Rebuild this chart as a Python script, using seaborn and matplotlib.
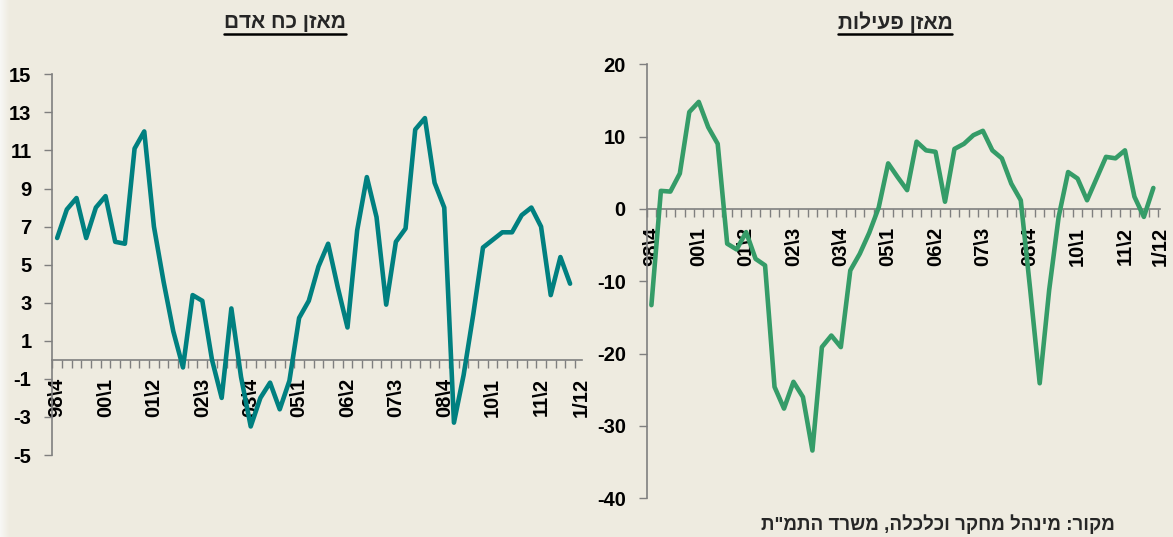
import numpy as np
import pandas as pd
import seaborn as sns
import matplotlib.pyplot as plt
from matplotlib.lines import Line2D

# quarterly series, 98\4 ... 12\1 (54 quarters)
manpower = [6.4, 7.9, 8.5, 6.4, 8.0, 8.6, 6.2, 6.1, 11.1, 12.0,
             7.0, 4.1, 1.5, -0.4, 3.4, 3.1, 0.0, -2.0, 2.7, -0.9,
             -3.5, -2.0, -1.2, -2.6, -1.1, 2.2, 3.1, 4.9, 6.1, 3.8,
             1.7, 6.8, 9.6, 7.5, 2.9, 6.2, 6.9, 12.1, 12.7, 9.3,
             8.0, -3.3, -0.8, 2.4, 5.9, 6.3, 6.7, 6.7, 7.6, 8.0,
             7.0, 3.4, 5.4, 4.0]

activity = [-13.3, 2.5, 2.4, 4.9, 13.4, 14.8, 11.3, 9.0, -4.8, -5.6,
            -3.2, -6.9, -7.8, -24.6, -27.6, -23.9, -26.0, -33.4, -19.1, -17.5,
            -19.1, -8.5, -6.2, -3.3, 0.2, 6.3, 4.4, 2.6, 9.3, 8.1,
            7.9, 1.0, 8.3, 9.0, 10.2, 10.8, 8.1, 7.0, 3.5, 1.2,
            -11.2, -24.1, -11.2, -1.1, 5.1, 4.2, 1.2, 4.2, 7.2, 7.0,
            8.1, 1.7, -1.1, 2.9]

tick_labels = ["98\\4", "00\\1", "01\\2", "02\\3", "03\\4", "05\\1",
               "06\\2", "07\\3", "08\\4", "10\\1", "11\\2"]
last_label = "1/12"

title_left = "מאזן כח אדם"
title_right = "מאזן פעילות"
source = 'מקור: מינהל מחקר וכלכלה, משרד התמ"ת'

df = pd.DataFrame({"q": np.arange(len(manpower)),
                   "manpower": manpower,
                   "activity": activity})

BG = "#EEEBE0"
AXC = "#7F7F7F"
FONT = "Liberation Sans"

sns.set_theme(style="white")
plt.rcParams["font.family"] = [FONT, "DejaVu Sans"]
plt.rcParams["font.weight"] = "bold"
plt.rcParams["axes.unicode_minus"] = False


def rtl(s):
    # matplotlib has no bidi support, so draw hebrew in visual order
    return s[::-1]


def style_axis(ax, yticks, last_pos):
    ax.set_facecolor("none")
    for s in ["top", "right"]:
        ax.spines[s].set_visible(False)
    ax.spines["left"].set_color(AXC)
    ax.spines["bottom"].set_color(AXC)
    ax.spines["left"].set_linewidth(1.2)
    ax.spines["bottom"].set_linewidth(1.2)
    ax.spines["bottom"].set_position(("data", 0))
    ax.set_xlim(-0.5, len(manpower) - 0.5)
    ax.set_ylim(yticks[0], yticks[-1])
    ax.set_yticks(yticks)
    ax.set_yticklabels([str(v) for v in yticks], fontsize=14.5,
                       fontweight="bold", family=FONT, color="black")
    ax.tick_params(axis="y", direction="out", length=6, width=1,
                   color=AXC, pad=9, left=True)
    pos = list(range(0, 51, 5)) + [last_pos]
    ax.set_xticks(pos)
    ax.set_xticklabels(tick_labels + [last_label], rotation=90,
                       fontsize=14.5, fontweight="bold", family=FONT,
                       color="black", va="top", ha="center")
    ax.set_xticks(np.arange(-0.5, len(manpower), 1), minor=True)
    ax.tick_params(axis="x", which="major", length=0, pad=13, bottom=True)
    ax.tick_params(axis="x", which="minor", direction="out", length=6,
                   width=1, color=AXC, bottom=True)
    ax.set_xlabel("")
    ax.set_ylabel("")
    ax.grid(False)


fig = plt.figure(figsize=(11.73, 5.37), dpi=100)
fig.patch.set_facecolor(BG)

# light shading on the left border
edge = np.ones((537, 10, 3))
bg_rgb = np.array([0xEE, 0xEB, 0xE0]) / 255
for k in range(10):
    t = k / 9
    edge[:, k, :] = (1 - t) * np.array([0.97, 0.97, 0.96]) + t * bg_rgb
fig.figimage(edge, xo=0, yo=0, zorder=-10)

ax1 = fig.add_axes([0.0446, 0.1527, 0.4513, 0.7089])
ax2 = fig.add_axes([0.5513, 0.0721, 0.4376, 0.8082])

sns.lineplot(data=df, x="q", y="manpower", ax=ax1, color="#008080",
             linewidth=3.3, solid_joinstyle="round", solid_capstyle="round",
             zorder=3)
sns.lineplot(data=df, x="q", y="activity", ax=ax2, color="#359C68",
             linewidth=3.3, solid_joinstyle="round", solid_capstyle="round",
             zorder=3)

style_axis(ax1, list(range(-5, 16, 2)), 54.2)
style_axis(ax2, list(range(-40, 21, 10)), 53.7)

t1 = fig.text(285 / 1173, 1 - 22 / 537, rtl(title_left), ha="center",
              va="center", fontsize=15, fontweight="bold", family=FONT)
t2 = fig.text(895 / 1173, 1 - 22 / 537, rtl(title_right), ha="center",
              va="center", fontsize=15, fontweight="bold", family=FONT)
fig.text(1115 / 1173, 1 - 524 / 537, rtl(source), ha="right",
         va="center", fontsize=13.5, fontweight="bold", family=FONT)

# underline the titles
fig.canvas.draw()
renderer = fig.canvas.get_renderer()
for t in (t1, t2):
    bb = t.get_window_extent(renderer)
    yline = (537 - 34) / 537
    fig.add_artist(Line2D([bb.x0 / 1173, bb.x1 / 1173], [yline, yline],
                          color="black", linewidth=1.8,
                          transform=fig.transFigure))

fig.savefig("out.png", dpi=100, facecolor=BG)
